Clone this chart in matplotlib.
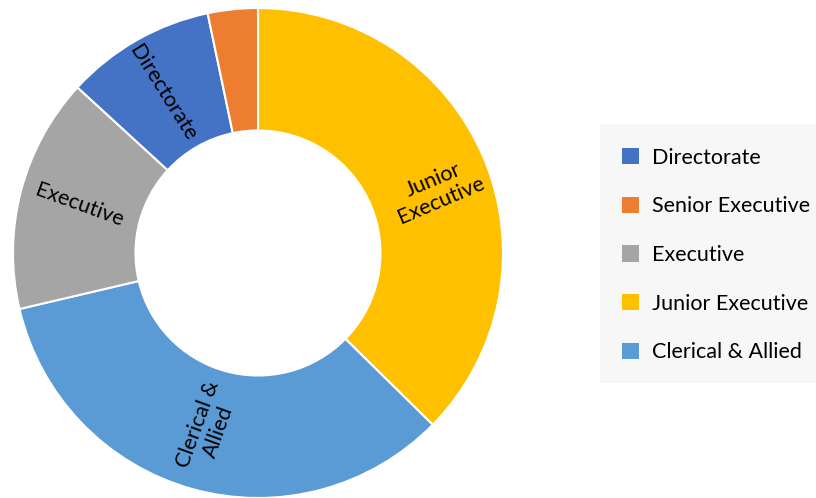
import matplotlib
matplotlib.use("Agg")
import matplotlib.pyplot as plt
from matplotlib.patches import Patch, Rectangle

plt.rcParams['font.family'] = ['Lato', 'DejaVu Sans']

# slices, clockwise from 12 o'clock
slices = ["Junior Executive", "Clerical & Allied", "Executive", "Directorate", "Senior Executive"]
shares = [37.4, 34.0, 15.5, 9.9, 3.3]
colors = ["#FFC000", "#5B9BD5", "#A5A5A5", "#4472C4", "#ED7D31"]

legend_order = ["Directorate", "Senior Executive", "Executive", "Junior Executive", "Clerical & Allied"]

W, H = 816, 498
fig = plt.figure(figsize=(W / 100, H / 100), dpi=100)
ax = fig.add_axes([13 / W, 0.0, 490 / W, 490 / H])

ax.pie(shares, colors=colors, startangle=90, counterclock=False,
       wedgeprops=dict(width=0.5, edgecolor="white", linewidth=1.5))
ax.set_xlim(-1, 1)
ax.set_ylim(-1, 1)
ax.set_aspect("equal")

fs = 15.5
# in-slice labels (rotated like the original)
ax.text(0.731, 0.257, "Junior\nExecutive", rotation=23, ha="center", va="center",
        fontsize=fs, linespacing=1.1, rotation_mode="anchor")
ax.text(-0.204, -0.714, "Clerical &\nAllied", rotation=70, ha="center", va="center",
        fontsize=fs, linespacing=1.1, rotation_mode="anchor")
ax.text(-0.727, 0.196, "Executive", rotation=-20, ha="center", va="center",
        fontsize=fs, rotation_mode="anchor")
ax.text(-0.388, 0.655, "Directorate", rotation=-58, ha="center", va="center",
        fontsize=fs, rotation_mode="anchor")

# legend background box
fig.patches.append(Rectangle((600 / W, 1 - 383 / H), (W - 600) / W, (383 - 124) / H,
                             transform=fig.transFigure, facecolor="#F7F7F7",
                             edgecolor="none", zorder=0))

handles = [Patch(facecolor=colors[slices.index(n)], edgecolor="none") for n in legend_order]
leg = fig.legend(handles, legend_order, loc="center left",
                 bbox_to_anchor=(622 / W, 1 - 255 / H),
                 frameon=False, fontsize=fs, handlelength=0.8, handleheight=0.8,
                 labelspacing=1.33, borderpad=0, handletextpad=0.6, borderaxespad=0)

fig.savefig("out.png", dpi=100)
